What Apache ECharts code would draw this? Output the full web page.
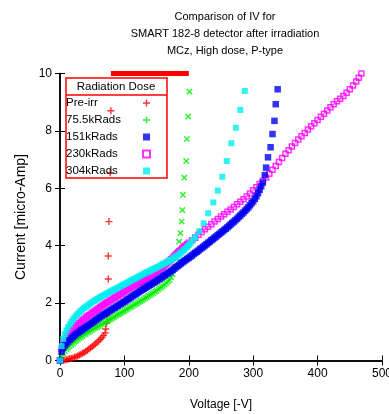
<!DOCTYPE html>
<html><head><meta charset="utf-8">
<script src="https://cdn.jsdelivr.net/npm/echarts@6/dist/echarts.min.js"></script>
<style>html,body{margin:0;padding:0;background:#fff}#c{width:389px;height:414px}</style>
</head><body><div id="c"></div>
<script>
var titleLines = ['Comparison of IV for', 'SMART 182-8 detector after irradiation', 'MCz, High dose, P-type'];
var xName = 'Voltage [-V]';
var yName = 'Current [micro-Amp]';
var legendTitle = 'Radiation Dose';
var seriesNames = ['Pre-irr', '75.5kRads', '151kRads', '230kRads', '304kRads'];
var xTicks = [0, 100, 200, 300, 400, 500];
var yTicks = [0, 2, 4, 6, 8, 10];

var preV = [0,2.5,5,7.5,10,12.5,15,17.5,20,22.5,25,27.5,30,32.5,35,37.5,40,42.5,45,47.5,50,52.5,55,57.5,60,62.5,65,67.5,70,71,72,73,75,75,76,78,79];
var preI = [0,0,0.01,0.02,0.03,0.04,0.06,0.07,0.09,0.11,0.13,0.16,0.19,0.22,0.25,0.28,0.32,0.36,0.4,0.44,0.49,0.53,0.58,0.63,0.68,0.74,0.8,0.87,0.96,1.1,1.3,1.55,2.84,3.64,4.84,6.54,8.7];

var k75V = [0,2.5,5,7.5,10,12.5,15,17.5,20,22.5,25,27.5,30,32.5,35,37.5,40,42.5,45,47.5,50,52.5,55,57.5,60,62.5,65,67.5,70,72.5,75,77.5,80,82.5,85,87.5,90,92.5,95,97.5,100,102.5,105,107.5,110,112.5,115,117.5,120,122.5,125,127.5,130,132.5,135,137.5,140,142.5,145,147.5,150,152.5,155,157.5,160,162.5,165,167.5,170,172.5,175,178,181,183,185,187,189,190,191,193,196,197,199,201];
var k75I = [0,0.12,0.25,0.33,0.4,0.45,0.5,0.55,0.6,0.65,0.69,0.74,0.78,0.82,0.86,0.9,0.93,0.97,1.0,1.04,1.07,1.11,1.14,1.17,1.2,1.24,1.27,1.3,1.33,1.37,1.4,1.43,1.46,1.5,1.53,1.57,1.6,1.63,1.67,1.7,1.73,1.77,1.8,1.84,1.87,1.9,1.94,1.97,2.0,2.04,2.07,2.1,2.14,2.18,2.21,2.25,2.28,2.32,2.36,2.4,2.43,2.48,2.52,2.56,2.6,2.65,2.7,2.75,2.8,2.9,3.0,3.25,3.55,3.79,4.14,4.44,4.84,5.24,5.77,6.37,6.95,7.72,8.5,9.37];

var k151V = [0,2.5,5,7.5,10,12.5,15,17.5,20,22.5,25,27.5,30,32.5,35,37.5,40,42.5,45,47.5,50,52.5,55,57.5,60,62.5,65,67.5,70,72.5,75,77.5,80,82.5,85,87.5,90,92.5,95,97.5,100,102.5,105,107.5,110,112.5,115,117.5,120,122.5,125,127.5,130,132.5,135,137.5,140,142.5,145,147.5,150,152.5,155,157.5,160,162.5,165,167.5,170,172.5,175,177.5,180,182.5,185,187.5,190,192.5,195,197.5,200,202.5,205,207.5,210,212.5,215,217.5,220,222.5,225,227.5,230,232.5,235,237.5,240,242.5,245,247.5,250,252.5,255,257.5,260,262.5,265,267.5,270,272.5,275,277.5,280,282.5,285,287.5,290,292.5,295,297.5,300,302.5,305,307.5,310,312.5,315,318,320,323,327,330,333,335,338];
var k151I = [0,0.3,0.45,0.53,0.6,0.66,0.72,0.77,0.82,0.87,0.92,0.96,1.0,1.04,1.08,1.12,1.16,1.2,1.24,1.28,1.32,1.36,1.4,1.44,1.48,1.52,1.56,1.6,1.63,1.67,1.7,1.74,1.77,1.81,1.84,1.88,1.91,1.95,1.98,2.02,2.05,2.09,2.13,2.16,2.2,2.24,2.28,2.31,2.35,2.39,2.43,2.46,2.5,2.53,2.57,2.6,2.64,2.67,2.71,2.74,2.78,2.82,2.85,2.89,2.93,2.97,3.0,3.04,3.08,3.12,3.16,3.2,3.25,3.29,3.33,3.38,3.42,3.46,3.5,3.54,3.58,3.62,3.66,3.71,3.75,3.79,3.83,3.88,3.92,3.96,4.01,4.05,4.1,4.14,4.19,4.23,4.28,4.32,4.37,4.41,4.46,4.5,4.55,4.59,4.64,4.69,4.74,4.79,4.84,4.89,4.94,5.0,5.05,5.11,5.16,5.22,5.28,5.34,5.41,5.48,5.55,5.63,5.72,5.83,5.95,6.07,6.2,6.46,6.72,7.08,7.43,7.89,8.35,8.93,9.45];

var k230V = [0,2.5,5,7.5,10,12.5,15,17.5,20,22.5,25,27.5,30,32.5,35,37.5,40,42.5,45,47.5,50,52.5,55,57.5,60,62.5,65,67.5,70,72.5,75,77.5,80,82.5,85,87.5,90,92.5,95,97.5,100,102.5,105,107.5,110,112.5,115,117.5,120,122.5,125,127.5,130,132.5,135,137.5,140,142.5,145,147.5,150,152.5,155,157.5,160,162.5,165,167.5,170,172.5,175,177.5,180,182.5,185,187.5,190,192.5,195,197.5,200,205,210,215,220,225,230,235,240,245,250,255,260,265,270,275,280,285,290,295,300,305,310,315,320,325,330,335,340,345,350,355,360,365,370,375,380,385,390,395,400,405,410,415,420,425,430,435,440,445,450,455,460,464,468];
var k230I = [0,0.4,0.6,0.7,0.8,0.88,0.95,1.02,1.08,1.14,1.2,1.25,1.3,1.35,1.4,1.45,1.5,1.54,1.58,1.62,1.66,1.7,1.74,1.78,1.82,1.86,1.9,1.94,1.98,2.02,2.05,2.09,2.12,2.16,2.19,2.23,2.26,2.3,2.33,2.37,2.4,2.44,2.47,2.51,2.54,2.58,2.61,2.65,2.68,2.71,2.74,2.77,2.8,2.84,2.88,2.91,2.95,2.99,3.03,3.06,3.1,3.14,3.18,3.22,3.27,3.32,3.37,3.42,3.47,3.53,3.58,3.64,3.7,3.75,3.81,3.86,3.92,3.96,4.01,4.05,4.1,4.19,4.28,4.38,4.48,4.57,4.66,4.75,4.84,4.93,5.02,5.1,5.18,5.26,5.35,5.44,5.53,5.62,5.71,5.82,5.93,6.04,6.15,6.26,6.38,6.51,6.65,6.78,6.92,7.06,7.2,7.33,7.46,7.58,7.7,7.81,7.93,8.05,8.16,8.27,8.38,8.49,8.6,8.71,8.82,8.93,9.03,9.12,9.22,9.33,9.45,9.58,9.72,9.85,10.0];

var k304V = [0,2.5,5,7.5,10,12.5,15,17.5,20,22.5,25,27.5,30,32.5,35,37.5,40,42.5,45,47.5,50,52.5,55,57.5,60,62.5,65,67.5,70,72.5,75,77.5,80,82.5,85,87.5,90,92.5,95,97.5,100,102.5,105,107.5,110,112.5,115,117.5,120,122.5,125,127.5,130,132.5,135,137.5,140,142.5,145,147.5,150,152.5,155,157.5,160,162.5,165,167.5,170,172.5,175,177.5,180,182.5,185,187.5,190,192.5,195,197.5,200,203,206,210,216,223,230,238,245,252,259,266,273,280,287];
var k304I = [0,0.5,0.75,0.92,1.05,1.16,1.25,1.34,1.42,1.49,1.56,1.62,1.68,1.73,1.78,1.83,1.87,1.91,1.95,1.99,2.03,2.07,2.1,2.14,2.17,2.21,2.24,2.27,2.3,2.33,2.36,2.39,2.42,2.45,2.48,2.51,2.54,2.57,2.6,2.63,2.66,2.69,2.72,2.75,2.78,2.81,2.84,2.87,2.9,2.93,2.96,2.99,3.02,3.05,3.08,3.1,3.13,3.16,3.19,3.21,3.24,3.27,3.3,3.33,3.36,3.39,3.42,3.45,3.48,3.51,3.55,3.58,3.62,3.66,3.7,3.75,3.8,3.85,3.9,3.96,4.02,4.1,4.2,4.3,4.5,4.78,5.13,5.51,5.92,6.4,6.95,7.57,8.11,8.73,9.39];

var barV = [79, 200];
var barI = [10, 10];

function zip(a, b) { return a.map(function (v, i) { return [v, b[i]]; }); }

var plusPath = 'path://M4,0H6V4H10V6H6V10H4V6H0V4H4Z';
var font = 'Liberation Sans, Arial, sans-serif';

var chart = echarts.init(document.getElementById('c'), null, {renderer: 'canvas'});
var axisCommon = {
  type: 'value', min: 0, splitLine: {show: false},
  axisLine: {show: true, lineStyle: {color: '#000', width: 1.5}},
  axisTick: {show: true, inside: true, length: 5, lineStyle: {color: '#000', width: 1}}
};
chart.setOption({
  animation: false,
  backgroundColor: '#fff',
  title: {
    text: titleLines.join('\n'), left: 220, textAlign: 'center', top: 3,
    textStyle: {fontFamily: font, fontSize: 11, fontWeight: 'normal', color: '#000', lineHeight: 17}
  },
  grid: {left: 60, right: 7, top: 73.5, bottom: 53.5, containLabel: false, outerBoundsMode: 'none'},
  xAxis: [
    Object.assign({}, axisCommon, {max: 500, interval: 100, position: 'bottom',
      name: xName, nameLocation: 'middle', nameGap: 38,
      nameTextStyle: {fontFamily: font, fontSize: 12, color: '#000'},
      axisLabel: {fontFamily: font, fontSize: 12, color: '#000', margin: 7,
        formatter: function (v) { return xTicks.indexOf(v) >= 0 ? String(v) : ''; }}}),
    Object.assign({}, axisCommon, {max: 500, interval: 100, position: 'top', axisLabel: {show: false}})
  ],
  yAxis: [
    Object.assign({}, axisCommon, {max: 10, interval: 2, position: 'left',
      name: yName, nameLocation: 'middle', nameGap: 32,
      nameTextStyle: {fontFamily: font, fontSize: 14, color: '#000'},
      axisLabel: {fontFamily: font, fontSize: 12, color: '#000', margin: 8,
        formatter: function (v) { return yTicks.indexOf(v) >= 0 ? String(v) : ''; }}}),
    Object.assign({}, axisCommon, {max: 10, interval: 2, position: 'right', axisLabel: {show: false}})
  ],
  legend: {
    data: seriesNames, orient: 'vertical', left: 66, top: 96, align: 'right',
    itemWidth: 7, itemHeight: 7, itemGap: 3, padding: [0, 0, 0, 0],
    formatter: function (n) { return '{a|' + n + '}'; },
    textStyle: {fontFamily: font, fontSize: 11.5, color: '#000', lineHeight: 14,
      rich: {a: {width: 72, align: 'left', fontFamily: font, fontSize: 11.5, color: '#000'}}}
  },
  graphic: [
    {type: 'rect', shape: {x: 66, y: 78, width: 101, height: 100}, style: {fill: 'none', stroke: '#f00', lineWidth: 1.5}, z: 100},
    {type: 'line', shape: {x1: 66, y1: 95, x2: 167, y2: 95}, style: {stroke: '#f00', lineWidth: 1.5}, z: 100},
    {type: 'text', x: 116, y: 87, style: {text: legendTitle, fontFamily: font, fontSize: 11.5, fill: '#000', textAlign: 'center', textVerticalAlign: 'middle'}, z: 100}
  ],
  series: [
    {name: seriesNames[0], type: 'scatter', z: 2, data: zip(preV, preI), symbol: plusPath, symbolSize: 7, itemStyle: {color: '#ff0000'}},
    {name: seriesNames[1], type: 'scatter', z: 2, data: zip(k75V, k75I), symbol: plusPath, symbolRotate: 45, symbolSize: 7.5, itemStyle: {color: '#00ee00'}},
    {name: seriesNames[2], type: 'scatter', z: 3, data: zip(k151V, k151I), symbol: 'rect', symbolSize: 6.5, itemStyle: {color: '#0000ee'}},
    {name: seriesNames[3], type: 'scatter', z: 2, data: zip(k230V, k230I), symbol: 'rect', symbolSize: 5, itemStyle: {color: 'rgba(0,0,0,0)', borderColor: '#ff00ff', borderWidth: 1.5}},
    {name: seriesNames[4], type: 'scatter', z: 4, data: zip(k304V, k304I), symbol: 'rect', symbolSize: 6, itemStyle: {color: '#00eeee'}},
    {name: 'bar', type: 'line', data: zip(barV, barI), symbol: 'none', clip: false, silent: true, z: 20,
      lineStyle: {color: '#ff0000', width: 5}}
  ]
});
</script></body></html>
